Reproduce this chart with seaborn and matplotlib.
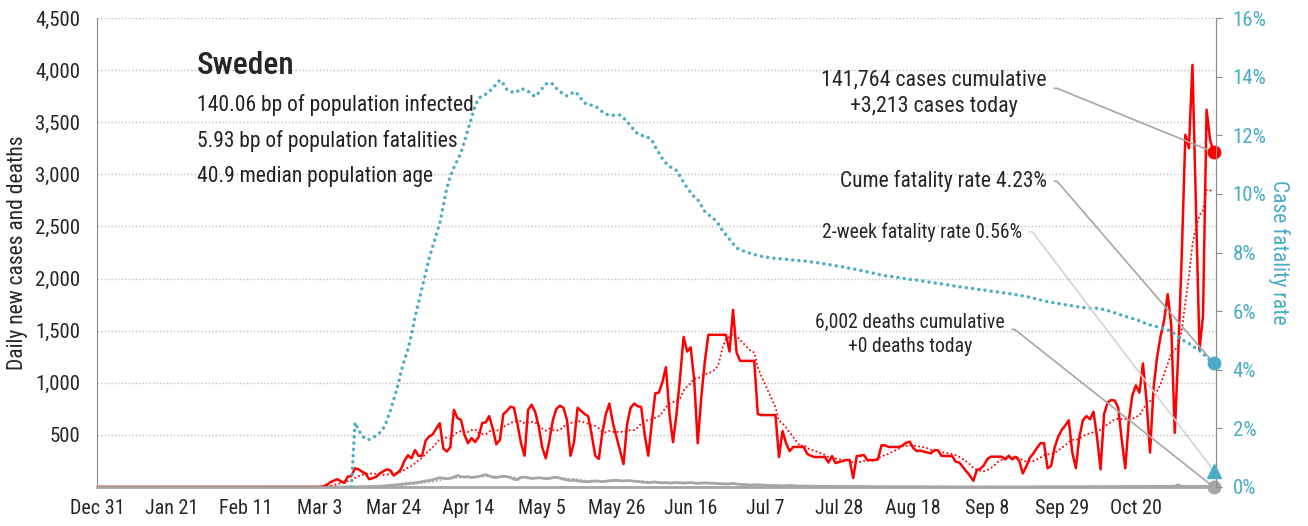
import pandas as pd
import matplotlib
matplotlib.use("Agg")
import matplotlib.pyplot as plt
import matplotlib.ticker as mticker
from matplotlib import font_manager as fm
import seaborn as sns

# daily series start on Dec 31, 2019 (one value per day)
start_date = "2019-12-31"

cases = [0] * 61 + [
    0, 0, 0, 5, 20, 45, 60, 75, 55, 40, 100, 105,
    180, 170, 147, 130, 75, 85, 97, 130, 150, 170, 160, 110,
    135, 170, 250, 305, 275, 355, 300, 300, 445, 485, 505, 560,
    612, 371, 340, 384, 740, 662, 645, 500, 420, 470, 432, 480,
    614, 620, 680, 560, 410, 451, 700, 730, 770, 760, 600, 420,
    300, 740, 790, 720, 580, 380, 275, 440, 640, 750, 780, 760,
    643, 300, 430, 760, 730, 700, 680, 500, 300, 270, 520, 700,
    800, 614, 480, 350, 220, 600, 760, 800, 775, 768, 500, 300,
    614, 900, 905, 1005, 1150, 700, 430, 700, 1050, 1440, 1300, 1340,
    1030, 420, 860, 1200, 1460, 1460, 1460, 1460, 1460, 1460, 1300, 1700,
    1290, 1210, 1210, 1210, 1210, 1210, 700, 690, 690, 690, 690, 690,
    288, 537, 420, 345, 384, 384, 384, 384, 317, 300, 288, 288,
    288, 288, 235, 297, 230, 240, 250, 259, 259, 86, 297, 300,
    307, 259, 259, 259, 265, 400, 400, 384, 384, 384, 384, 400,
    425, 435, 374, 345, 348, 340, 330, 323, 355, 351, 300, 297,
    297, 297, 243, 235, 195, 150, 110, 60, 163, 175, 210, 270,
    291, 291, 291, 291, 265, 300, 265, 290, 250, 130, 200, 280,
    323, 375, 420, 420, 180, 200, 380, 480, 547, 590, 640, 330,
    182, 480, 640, 680, 650, 723, 480, 170, 700, 810, 835, 830,
    760, 450, 180, 640, 880, 975, 905, 1185, 835, 330, 950, 1250,
    1450, 1600, 1850, 1550, 520, 1300, 2250, 3380, 3250, 4050, 2700, 1320,
    1650, 3620, 3330, 3213,
]

deaths = [0] * 71 + [
    1, 0, 1, 2, 3, 3, 5, 6, 5, 7,
    10, 12, 15, 18, 20, 25, 30, 33, 35, 40,
    45, 52, 58, 62, 70, 80, 90, 85, 80, 84,
    95, 110, 100, 95, 98, 92, 95, 100, 110, 118,
    105, 95, 90, 98, 102, 100, 90, 75, 70, 92,
    95, 88, 82, 85, 88, 85, 80, 82, 90, 95,
    85, 75, 68, 62, 65, 60, 55, 52, 50, 55,
    58, 55, 52, 55, 60, 62, 65, 60, 58, 62,
    60, 55, 52, 48, 45, 42, 45, 48, 42, 40,
    42, 38, 40, 42, 40, 38, 40, 42, 38, 35,
    38, 40, 38, 36, 35, 33, 30, 28, 30, 35,
    28, 25, 22, 20, 18, 20, 22, 20, 18, 15,
    12, 14, 12, 10, 12, 15, 12, 10, 8, 10,
    8, 7, 8, 6, 5, 7, 6, 5, 4, 6,
    5, 4, 5, 3, 4, 5, 3, 4, 3, 3,
    2, 3, 4, 2, 3, 2, 3, 2, 2, 3,
    2, 2, 3, 1, 2, 2, 1, 2, 2, 1,
    2, 1, 1, 2, 1, 2, 1, 1, 2, 1,
    1, 2, 1, 1, 2, 1, 2, 1, 1, 2,
    1, 2, 2, 1, 2, 2, 1, 3, 2, 2,
    3, 2, 2, 3, 3, 2, 3, 3, 2, 3,
    3, 4, 3, 3, 4, 3, 5, 4, 3, 4,
    4, 5, 5, 4, 5, 6, 5, 4, 5, 6,
    7, 6, 5, 7, 8, 20, 6, 5, 6, 5,
    4, 5, 6, 5, 4, 0,
]

# case fatality rate (%), starts on day 72 (Mar 12)
cfr_offset = 72
cfr = [
    0.0, 2.2, 1.95, 1.75, 1.63, 1.62, 1.68, 1.75, 1.85, 2.0,
    2.25, 2.6, 3.0, 3.4, 3.9, 4.35, 4.7, 5.2, 5.8, 6.3,
    6.8, 7.3, 7.8, 8.2, 8.6, 9.0, 9.6, 10.2, 10.6, 10.9,
    11.15, 11.4, 11.8, 12.2, 12.6, 13.0, 13.25, 13.35, 13.4, 13.5,
    13.6, 13.75, 13.88, 13.75, 13.55, 13.5, 13.45, 13.5, 13.6, 13.55,
    13.5, 13.4, 13.32, 13.45, 13.6, 13.75, 13.78, 13.75, 13.6, 13.49,
    13.4, 13.34, 13.4, 13.49, 13.4, 13.25, 13.1, 13.05, 13.02, 13.0,
    12.9, 12.8, 12.72, 12.69, 12.68, 12.68, 12.69, 12.6, 12.45, 12.35,
    12.15, 12.05, 12.0, 11.97, 11.92, 11.84, 11.6, 11.4, 11.2, 11.05,
    10.95, 10.85, 10.8, 10.6, 10.4, 10.2, 10.05, 9.9, 9.8, 9.6,
    9.4, 9.3, 9.2, 9.1, 8.95, 8.75, 8.6, 8.45, 8.3, 8.15,
    8.1, 8.05, 8.0, 7.97, 7.93, 7.9, 7.87, 7.85, 7.83, 7.81,
    7.8, 7.79, 7.78, 7.77, 7.75, 7.74, 7.73, 7.72, 7.71, 7.7,
    7.68, 7.66, 7.65, 7.63, 7.61, 7.59, 7.57, 7.55, 7.53, 7.51,
    7.48, 7.46, 7.44, 7.42, 7.39, 7.36, 7.34, 7.31, 7.29, 7.26,
    7.23, 7.21, 7.2, 7.18, 7.16, 7.14, 7.12, 7.1, 7.08, 7.07,
    7.06, 7.04, 7.02, 7.0, 6.98, 6.96, 6.95, 6.93, 6.91, 6.89,
    6.87, 6.85, 6.83, 6.82, 6.8, 6.78, 6.77, 6.75, 6.73, 6.72,
    6.7, 6.68, 6.67, 6.65, 6.63, 6.62, 6.6, 6.58, 6.56, 6.54,
    6.52, 6.5, 6.47, 6.44, 6.41, 6.38, 6.35, 6.32, 6.3, 6.28,
    6.26, 6.24, 6.22, 6.2, 6.18, 6.16, 6.14, 6.12, 6.11, 6.1,
    6.1, 6.1, 6.08, 6.05, 6.02, 5.98, 5.94, 5.9, 5.86, 5.82,
    5.79, 5.75, 5.71, 5.67, 5.62, 5.57, 5.53, 5.5, 5.47, 5.43,
    5.4, 5.36, 5.3, 5.22, 5.13, 5.05, 4.95, 4.9, 4.82, 4.72,
    4.65, 4.55, 4.42, 4.33, 4.23,
]
two_week_cfr = 0.56

country = "Sweden"
info_lines = ["140.06 bp of population infected",
              "5.93 bp of population fatalities",
              "40.9 median population age"]
cases_note = "141,764 cases cumulative\n+3,213 cases today"
deaths_note = "6,002 deaths cumulative\n+0 deaths today"
cume_note = "Cume fatality rate 4.23%"
twoweek_note = "2-week fatality rate 0.56%"

RED = "#ff0000"
BLUE = "#4bacc6"
GRAY = "#a6a6a6"

sns.set_style("white")
# pick a condensed face if one is installed
have = {f.name for f in fm.fontManager.ttflist}
wanted = ["Roboto Condensed", "Archivo Narrow", "PT Sans Narrow", "Fira Sans Condensed",
          "IBM Plex Sans Condensed", "Liberation Sans Narrow", "Liberation Sans"]
font = next((f for f in wanted if f in have), "DejaVu Sans")
plt.rcParams["font.family"] = [font, "DejaVu Sans"]

dates = pd.date_range(start_date, periods=len(cases), freq="D")
df = pd.DataFrame({"date": dates, "cases": cases, "deaths": deaths})
df["cases_avg"] = df["cases"].rolling(7, min_periods=1).mean()
df["deaths_avg"] = df["deaths"].rolling(7, min_periods=1).mean()
cfr_df = pd.DataFrame({"date": dates[cfr_offset:], "cfr": cfr})

fig = plt.figure(figsize=(13.08, 5.26), dpi=100)
ax = fig.add_axes([97 / 1308, 39 / 526, 1119 / 1308, 469 / 526])

sns.lineplot(data=df, x="date", y="deaths", ax=ax, color=GRAY, lw=2.0)
sns.lineplot(data=df, x="date", y="deaths_avg", ax=ax, color=GRAY, lw=1.4,
             linestyle=(0, (0.01, 2.0)), dash_capstyle="round")
sns.lineplot(data=df, x="date", y="cases", ax=ax, color=RED, lw=1.8)
sns.lineplot(data=df, x="date", y="cases_avg", ax=ax, color=RED, lw=1.5,
             linestyle=(0, (0.01, 2.0)), dash_capstyle="round")
ax.plot(dates[-1], cases[-1], "o", color=RED, ms=9, clip_on=False, zorder=5)
ax.plot(dates[-1], deaths[-1], "o", color=GRAY, ms=9, clip_on=False, zorder=5)

ax.set_xlim(dates[0], dates[-1] + pd.Timedelta(hours=16))
ax.set_ylim(0, 4500)
ax.set_yticks(range(0, 4501, 500))
ax.yaxis.set_major_formatter(mticker.FuncFormatter(lambda v, p: "" if v == 0 else f"{v:,.0f}"))
ticks = pd.date_range(start_date, periods=15, freq="21D")
ax.set_xticks(ticks)
ax.set_xticklabels([f"{d:%b} {d.day}" for d in ticks])
ax.yaxis.grid(True, linestyle=(0, (1, 1.5)), color="#c0c0c0", lw=1)
ax.set_axisbelow(True)
ax.tick_params(axis="x", length=5, color=GRAY, labelsize=14.5, pad=4)
ax.tick_params(axis="y", length=0, labelsize=15, pad=12)
ax.set_xlabel("")
ax.set_ylabel("Daily new cases and deaths", fontsize=15.5, labelpad=5)
for s in ["left", "right"]:
    ax.spines[s].set_color("#8c8c8c")
ax.spines["bottom"].set_color(GRAY)
ax.spines["bottom"].set_linewidth(2)
ax.spines["top"].set_visible(False)

ax2 = ax.twinx()
sns.lineplot(data=cfr_df, x="date", y="cfr", ax=ax2, color=BLUE, lw=2.5,
             linestyle=(0, (0.01, 1.8)), dash_capstyle="round")
ax2.plot(dates[-1], cfr[-1], "o", color=BLUE, ms=9, clip_on=False, zorder=5)
ax2.plot(dates[-1], two_week_cfr, "^", color=BLUE, ms=10, clip_on=False, zorder=5)
ax2.set_ylim(0, 16)
ax2.set_yticks(range(0, 17, 2))
ax2.yaxis.set_major_formatter(mticker.FuncFormatter(lambda v, p: f"{v:.0f}%"))
ax2.tick_params(axis="y", length=4, color="#8c8c8c", labelcolor=BLUE, labelsize=15, pad=8)
ax2.set_xlabel("")
ax2.set_ylabel("Case fatality rate", fontsize=15.5, color=BLUE, rotation=270, labelpad=17)
ax2.spines["top"].set_visible(False)
ax2.spines["right"].set_color("#8c8c8c")
ax2.spines["bottom"].set_visible(False)
ax2.spines["left"].set_visible(False)

ax.text(0.0894, 0.898, country, transform=ax.transAxes, fontsize=22.5, va="center", ha="left",
        fontweight="medium")
for i, line in enumerate(info_lines):
    ax.text(0.0894, 0.814 - i * 0.0755, line, transform=ax.transAxes, fontsize=15.5,
            va="center", ha="left", color="#222222")

line_kw = dict(arrowstyle="-", lw=1.2, shrinkA=3, shrinkB=0,
               connectionstyle="arc,angleA=0,armA=10,angleB=0,armB=0,rad=0")
ax.annotate(cases_note, xy=(dates[-1], cases[-1]), xytext=(0.748, 0.840), textcoords="axes fraction",
            ha="center", va="center", fontsize=15.8, linespacing=1.35,
            arrowprops=dict(color=GRAY, relpos=(1, 0.6), **line_kw))
ax.annotate(deaths_note, xy=(dates[-1], deaths[-1]), xytext=(0.7265, 0.325), textcoords="axes fraction",
            ha="center", va="center", fontsize=14.2, linespacing=1.3,
            arrowprops=dict(color=GRAY, relpos=(1, 0.62), **line_kw))
ax2.annotate(cume_note, xy=(dates[-1], cfr[-1]), xytext=(0.849, 0.652), textcoords="axes fraction",
             ha="right", va="center", fontsize=15.5,
             arrowprops=dict(color=GRAY, relpos=(1, 0.5), **line_kw))
ax2.annotate(twoweek_note, xy=(dates[-1], two_week_cfr), xytext=(0.827, 0.544), textcoords="axes fraction",
             ha="right", va="center", fontsize=14.2,
             arrowprops=dict(color="#d4d4d4", relpos=(1, 0.5), **line_kw))

fig.savefig("out.png", dpi=100)
